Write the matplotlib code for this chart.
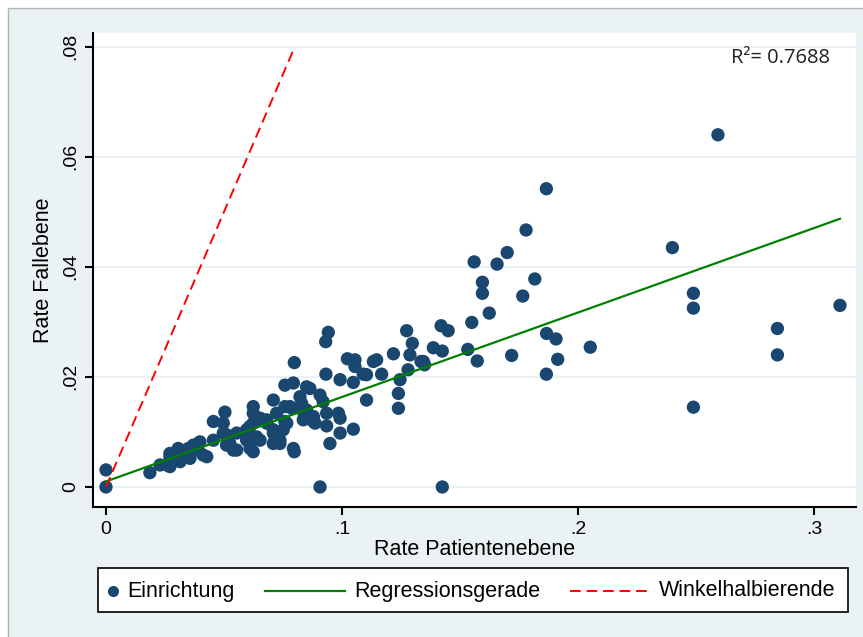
import matplotlib.pyplot as plt
from matplotlib.patches import Rectangle
from matplotlib.lines import Line2D
import numpy as np

# Einrichtungen: Rate Patientenebene (x) und Rate Fallebene (y)
rate_patient = [
    0.0, 0.0, 0.0186, 0.0229, 0.0257, 0.0271, 0.0271, 0.0271, 0.0285, 0.0300,
    0.0306, 0.0314, 0.0314, 0.0328, 0.0349, 0.0356, 0.0356, 0.0370, 0.0391, 0.0391,
    0.0398, 0.0412, 0.0427, 0.0455, 0.0455, 0.0497, 0.0497, 0.0504, 0.0511, 0.0511,
    0.0525, 0.0540, 0.0554, 0.0554, 0.0596, 0.0596, 0.0596, 0.0610, 0.0610, 0.0610,
    0.0624, 0.0624, 0.0624, 0.0624, 0.0638, 0.0653, 0.0653, 0.0653, 0.0681, 0.0681,
    0.0709, 0.0709, 0.0709, 0.0709, 0.0716, 0.0723, 0.0737, 0.0737, 0.0751, 0.0758,
    0.0758, 0.0758, 0.0766, 0.0780, 0.0787, 0.0794, 0.0794, 0.0798, 0.0798, 0.0822,
    0.0829, 0.0836, 0.0836, 0.0850, 0.0850, 0.0864, 0.0879, 0.0879, 0.0886, 0.0907,
    0.0907, 0.0920, 0.0931, 0.0932, 0.0935, 0.0935, 0.0942, 0.0949, 0.0985, 0.0992,
    0.0992, 0.0992, 0.1023, 0.1048, 0.1048, 0.1055, 0.1055, 0.1090, 0.1104, 0.1104,
    0.1133, 0.1147, 0.1168, 0.1218, 0.1239, 0.1239, 0.1246, 0.1274, 0.1280, 0.1288,
    0.1298, 0.1335, 0.1345, 0.1350, 0.1387, 0.1420, 0.1425, 0.1425, 0.1450, 0.1533,
    0.1550, 0.1560, 0.1573, 0.1595, 0.1595, 0.1624, 0.1657, 0.1700, 0.1719, 0.1766,
    0.1780, 0.1817, 0.1866, 0.1867, 0.1866, 0.1907, 0.1914, 0.2052, 0.2400, 0.2489,
    0.2489, 0.2489, 0.2593, 0.2845, 0.2845, 0.3110,
]
rate_fall = [
    0.0, 0.0031, 0.0026, 0.0040, 0.0040, 0.0055, 0.0037, 0.0061, 0.0049, 0.0064,
    0.0070, 0.0046, 0.0055, 0.0058, 0.0070, 0.0061, 0.0052, 0.0076, 0.0079, 0.0067,
    0.0082, 0.0058, 0.0055, 0.0085, 0.0119, 0.0116, 0.0098, 0.0136, 0.0095, 0.0076,
    0.0079, 0.0067, 0.0098, 0.0067, 0.0101, 0.0085, 0.0104, 0.0085, 0.0110, 0.0070,
    0.0146, 0.0134, 0.0064, 0.0116, 0.0091, 0.0125, 0.0085, 0.0122, 0.0116, 0.0122,
    0.0158, 0.0098, 0.0079, 0.0104, 0.0085, 0.0134, 0.0085, 0.0079, 0.0104, 0.0185,
    0.0146, 0.0119, 0.0116, 0.0146, 0.0143, 0.0189, 0.0070, 0.0226, 0.0064, 0.0164,
    0.0152, 0.0137, 0.0122, 0.0182, 0.0140, 0.0179, 0.0128, 0.0119, 0.0116, 0.0167,
    0.0, 0.0155, 0.0264, 0.0205, 0.0134, 0.0111, 0.0281, 0.0079, 0.0134, 0.0195,
    0.0125, 0.0098, 0.0233, 0.0190, 0.0105, 0.0231, 0.0219, 0.0205, 0.0204, 0.0158,
    0.0228, 0.0231, 0.0205, 0.0242, 0.0170, 0.0143, 0.0195, 0.0284, 0.0213, 0.0240,
    0.0261, 0.0228, 0.0228, 0.0222, 0.0253, 0.0293, 0.0247, 0.0, 0.0284, 0.0250,
    0.0299, 0.0409, 0.0229, 0.0372, 0.0352, 0.0316, 0.0405, 0.0426, 0.0239, 0.0347,
    0.0467, 0.0378, 0.0542, 0.0279, 0.0205, 0.0269, 0.0232, 0.0254, 0.0435, 0.0352,
    0.0325, 0.0145, 0.0640, 0.0288, 0.0240, 0.0330,
]

# Regressionsgerade
reg_intercept = 0.0010
reg_slope = 0.1535
r2_text = 'R²= 0.7688'

x_ticks = [0, 0.1, 0.2, 0.3]
x_ticklabels = ['0', '.1', '.2', '.3']
y_ticks = [0, 0.02, 0.04, 0.06, 0.08]
y_ticklabels = ['0', '.02', '.04', '.06', '.08']

navy = '#1a476f'
bg = '#eaf2f3'

plt.rcParams['font.family'] = ['Liberation Sans', 'DejaVu Sans']

fig = plt.figure(figsize=(8.63, 6.37), dpi=100, facecolor='white')
fig.add_artist(Rectangle((8 / 863, -0.01), 1.0, 1 - 8 / 637 + 0.01, transform=fig.transFigure,
                         facecolor=bg, edgecolor='#b4b4b4', linewidth=1, zorder=-10))

ax = fig.add_axes([93 / 863, 1 - 507 / 637, (856 - 93) / 863, (507 - 33) / 637])
ax.set_facecolor('white')

x = np.array(rate_patient)
y = np.array(rate_fall)
ax.scatter(x, y, s=92, color=navy, edgecolors='none', zorder=3)

xr = np.array([0, x.max()])
ax.plot(xr, reg_intercept + reg_slope * xr, color='#008000', linewidth=1.6, zorder=4)

xw = np.array([0, 0.08])
ax.plot(xw, xw, color='red', linewidth=1.4, linestyle=(0, (5.5, 3)), zorder=4)

ax.set_xlim(-0.0055, 0.3178)
ax.set_ylim(-0.00364, 0.0825)
ax.set_xticks(x_ticks)
ax.set_xticklabels(x_ticklabels)
ax.set_yticks(y_ticks)
ax.set_yticklabels(y_ticklabels, rotation=90, va='center')
ax.tick_params(axis='both', direction='out', length=6, width=1.5, labelsize=14, pad=4)
ax.grid(axis='y', color=bg, linewidth=1.5, zorder=0)
ax.set_axisbelow(True)
for s in ['top', 'right']:
    ax.spines[s].set_visible(False)
for s in ['left', 'bottom']:
    ax.spines[s].set_linewidth(1.5)

ax.set_xlabel('Rate Patientenebene', fontsize=15.5, labelpad=1)
ax.set_ylabel('Rate Fallebene', fontsize=15.5, labelpad=6)
ax.text(0.966, 0.947, r2_text, transform=ax.transAxes, ha='right', va='center',
        fontsize=14.5, family=['Open Sans', 'DejaVu Sans'], color='#222222')

# Legende
fig.add_artist(Rectangle((98 / 863, 1 - 612 / 637), 750 / 863, 44 / 637, transform=fig.transFigure,
                         facecolor='white', edgecolor='black', linewidth=1.2))
ly = 1 - 591 / 637
fig.add_artist(Line2D([113 / 863], [ly], marker='o', markersize=8, color=navy,
                      markeredgecolor='none', transform=fig.transFigure))
fig.text(127 / 863, ly, 'Einrichtung', fontsize=15.5, va='center')
fig.add_artist(Line2D([265 / 863, 345 / 863], [ly, ly], color='#008000', linewidth=1.6,
                      transform=fig.transFigure))
fig.text(354 / 863, ly, 'Regressionsgerade', fontsize=15.5, va='center')
fig.add_artist(Line2D([570 / 863, 650 / 863], [ly, ly], color='red', linewidth=1.4,
                      linestyle=(0, (5.5, 3)), transform=fig.transFigure))
fig.text(659 / 863, ly, 'Winkelhalbierende', fontsize=15.5, va='center')

fig.savefig('out.png', dpi=100, facecolor=fig.get_facecolor())
